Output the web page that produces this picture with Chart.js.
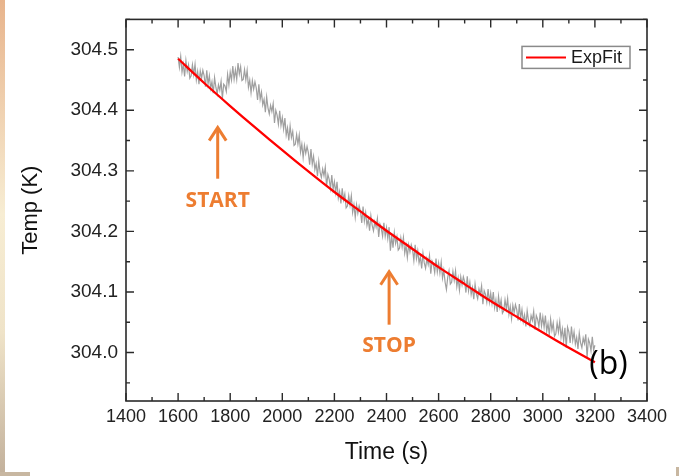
<!DOCTYPE html>
<html><head><meta charset="utf-8">
<script src="https://cdn.jsdelivr.net/npm/chart.js@4/dist/chart.umd.min.js"></script>
<style>html,body{margin:0;padding:0;background:#fff;}canvas{display:block;}</style>
</head><body>
<canvas id="c" width="679" height="476"></canvas>
<script>
// ---- data ----
const xTickValues = [1400,1600,1800,2000,2200,2400,2600,2800,3000,3200,3400];
const yTickValues = [304.0,304.1,304.2,304.3,304.4,304.5];
const xMinorStep = 100;
const yMinorStep = 0.05;

const fitTimes = [1600,1700,1800,1900,2000,2100,2200,2300,2400,2500,2600,2700,2800,2900,3000,3100,3200];
const fitTemps = [304.485,304.445,304.407,304.370,304.334,304.299,304.265,304.233,304.201,304.171,304.141,304.113,304.085,304.059,304.033,304.008,303.984];

const tempStart = 1600, tempStep = 5;
const tempValues = [
304.488,304.471,304.489,304.463,304.476,304.456,304.482,304.464,304.475,304.453,
304.457,304.475,304.459,304.476,304.450,304.464,304.443,304.465,304.453,304.466,
304.457,304.439,304.466,304.443,304.457,304.436,304.447,304.428,304.454,304.438,
304.427,304.442,304.433,304.448,304.419,304.443,304.440,304.431,304.459,304.442,
304.463,304.450,304.473,304.451,304.467,304.451,304.478,304.460,304.472,304.449,
304.451,304.467,304.450,304.466,304.438,304.450,304.429,304.449,304.435,304.447,
304.437,304.417,304.443,304.418,304.430,304.409,304.418,304.397,304.422,304.404,
304.394,304.408,304.398,304.411,304.379,304.400,304.392,304.377,304.399,304.375,
304.388,304.369,304.387,304.359,304.371,304.350,304.374,304.355,304.365,304.342,
304.344,304.360,304.344,304.359,304.331,304.344,304.322,304.342,304.329,304.340,
304.330,304.310,304.336,304.311,304.324,304.302,304.312,304.291,304.316,304.298,
304.289,304.303,304.292,304.306,304.274,304.294,304.286,304.271,304.293,304.269,
304.282,304.264,304.282,304.255,304.266,304.246,304.271,304.252,304.262,304.239,
304.242,304.259,304.243,304.259,304.231,304.244,304.223,304.244,304.230,304.242,
304.233,304.214,304.241,304.217,304.231,304.210,304.220,304.201,304.226,304.210,
304.201,304.216,304.207,304.221,304.191,304.212,304.205,304.192,304.214,304.192,
304.206,304.188,304.207,304.168,304.193,304.173,304.198,304.180,304.191,304.169,
304.172,304.189,304.174,304.190,304.164,304.177,304.157,304.178,304.166,304.178,
304.170,304.152,304.178,304.155,304.168,304.148,304.158,304.139,304.164,304.148,
304.139,304.155,304.145,304.160,304.130,304.151,304.145,304.132,304.155,304.133,
304.148,304.131,304.149,304.123,304.136,304.116,304.104,304.124,304.135,304.113,
304.116,304.134,304.119,304.135,304.109,304.123,304.103,304.125,304.112,304.125,
304.117,304.099,304.126,304.102,304.116,304.096,304.107,304.088,304.113,304.097,
304.089,304.105,304.096,304.110,304.080,304.102,304.096,304.083,304.105,304.083,
304.098,304.081,304.100,304.074,304.087,304.067,304.093,304.075,304.087,304.065,
304.069,304.087,304.072,304.089,304.063,304.076,304.056,304.078,304.066,304.079,
304.071,304.053,304.080,304.057,304.071,304.051,304.062,304.043,304.069,304.053,
304.045,304.061,304.053,304.068,304.038,304.061,304.055,304.042,304.066,304.044,
304.059,304.042,304.061,304.035,304.048,304.029,304.055,304.037,304.049,304.027,
304.031,304.049,304.034,304.051,304.025,304.039,304.019,304.041,304.008,304.042,
304.034,304.016,304.043,304.020,304.034,304.014,304.025,304.006,304.032,304.016,
304.008,304.024,304.015,304.030,303.992,304.022,304.016,304.003,304.026,304.004,
304.012
];

// ---- annotations (data coordinates) ----
const annoStart = {text:'START', t:1752, from:304.287, to:304.373, labelAt:304.250};
const annoStop  = {text:'STOP',  t:2410, from:304.046, to:304.135, labelAt:304.010};
const panelLabel = {text:'(b)', t:3252, at:303.980};
const legendText = 'ExpFit';

const ORANGE = '#ed7d31';
const FONT = '"Liberation Sans", Arial, sans-serif';

const grayPts = tempValues.map((v,i)=>({x: tempStart + i*tempStep, y: v}));
const fitPts = fitTimes.map((t,i)=>({x:t, y:fitTemps[i]}));

function drawArrow(ctx, x, yBottom, yTip){
  ctx.save();
  ctx.strokeStyle = ORANGE; ctx.lineWidth = 3; ctx.lineCap='butt'; ctx.lineJoin='miter';
  ctx.beginPath(); ctx.moveTo(x, yBottom); ctx.lineTo(x, yTip+2); ctx.stroke();
  ctx.beginPath(); ctx.moveTo(x-8.5, yTip+14); ctx.lineTo(x, yTip+1); ctx.lineTo(x+8.5, yTip+14); ctx.stroke();
  ctx.restore();
}

const decor = {
  id:'decor',
  beforeDraw(chart){
    const ctx = chart.ctx; ctx.save();
    ctx.fillStyle='#fff'; ctx.fillRect(0,0,chart.width,chart.height);
    const g = ctx.createLinearGradient(0,0,0,chart.height);
    g.addColorStop(0,'#e8b48c'); g.addColorStop(0.45,'#f7edd3'); g.addColorStop(0.7,'#efe3c8'); g.addColorStop(1,'#c2b09b');
    ctx.fillStyle=g; ctx.fillRect(0,0,5,chart.height);
    ctx.fillStyle='#c8b7a1'; ctx.fillRect(0,472,30,4);
    ctx.fillRect(676,467,3,9);
    ctx.restore();
  },
  afterDatasetsDraw(chart){
    const ctx = chart.ctx, a = chart.chartArea;
    const xs = chart.scales.x, ys = chart.scales.y;
    ctx.save();
    ctx.strokeStyle='#2a2a2a'; ctx.lineWidth=1.6;
    ctx.strokeRect(a.left, a.top, a.right-a.left, a.bottom-a.top);
    ctx.lineWidth=1.4;
    for (let v = xs.min; v <= xs.max + 1e-6; v += xMinorStep){
      const major = xTickValues.includes(Math.round(v));
      const len = major ? 8 : 4;
      const px = xs.getPixelForValue(v);
      ctx.beginPath(); ctx.moveTo(px, a.bottom); ctx.lineTo(px, a.bottom-len);
      ctx.moveTo(px, a.top); ctx.lineTo(px, a.top+len); ctx.stroke();
    }
    for (let k = 0; ; k++){
      const v = 303.95 + k*yMinorStep;
      if (v > ys.max) break;
      const major = yTickValues.some(t=>Math.abs(t-v)<1e-6);
      const len = major ? 8 : 4;
      const py = ys.getPixelForValue(v);
      ctx.beginPath(); ctx.moveTo(a.left, py); ctx.lineTo(a.left+len, py);
      ctx.moveTo(a.right, py); ctx.lineTo(a.right-len, py); ctx.stroke();
    }
    [annoStart, annoStop].forEach(an=>{
      const x = xs.getPixelForValue(an.t);
      drawArrow(ctx, x, ys.getPixelForValue(an.from), ys.getPixelForValue(an.to));
      ctx.fillStyle = ORANGE; ctx.font = 'bold 21px "Open Sans", sans-serif';
      ctx.textAlign='center'; ctx.textBaseline='middle';
      ctx.fillText(an.text, x, ys.getPixelForValue(an.labelAt));
    });
    ctx.fillStyle='#000'; ctx.font='32px "Open Sans", sans-serif';
    ctx.textAlign='center'; ctx.textBaseline='middle';
    ctx.fillText(panelLabel.text, xs.getPixelForValue(panelLabel.t), ys.getPixelForValue(panelLabel.at));
    const lx = a.right-125, ly = a.top+27, lw=108, lh=22;
    ctx.fillStyle='#fff'; ctx.fillRect(lx,ly,lw,lh);
    ctx.strokeStyle='#8a8a8a'; ctx.lineWidth=1.5; ctx.strokeRect(lx,ly,lw,lh);
    ctx.strokeStyle='#ff0000'; ctx.lineWidth=2;
    ctx.beginPath(); ctx.moveTo(lx+4, ly+lh/2); ctx.lineTo(lx+44, ly+lh/2); ctx.stroke();
    ctx.fillStyle='#1a1a1a'; ctx.font='18px '+FONT; ctx.textAlign='left'; ctx.textBaseline='middle';
    ctx.fillText(legendText, lx+49, ly+lh/2+1);
    ctx.restore();
  }
};

new Chart(document.getElementById('c'), {
  type:'scatter',
  data:{ datasets:[
    {label:'ExpFit', data:fitPts, showLine:true, borderColor:'#ff0000', borderWidth:2.3, pointRadius:0, tension:0.3},
    {label:'Temp', data:grayPts, showLine:true, borderColor:'rgba(95,95,95,0.6)', borderWidth:1.2, pointRadius:0}
  ]},
  options:{
    responsive:false, animation:false, devicePixelRatio:1,
    layout:{padding:{left:0, top:14, right:32, bottom:0}},
    plugins:{legend:{display:false}, tooltip:{enabled:false}},
    scales:{
      x:{type:'linear', min:1400, max:3400,
        afterBuildTicks:(s)=>{ s.ticks = xTickValues.map(v=>({value:v})); },
        afterFit:(s)=>{ s.height = 75; },
        grid:{display:false, drawTicks:false}, border:{display:false},
        ticks:{padding:5, color:'#222', font:{family:FONT, size:18}, maxRotation:0, autoSkip:false, callback:(v)=>String(v)},
        title:{display:true, text:'Time (s)', color:'#111', font:{family:FONT, size:23}, padding:{top:0,bottom:10}}
      },
      y:{type:'linear', min:303.92, max:304.55,
        afterBuildTicks:(s)=>{ s.ticks = yTickValues.map(v=>({value:v})); },
        afterFit:(s)=>{ s.width = 126; },
        grid:{display:false, drawTicks:false}, border:{display:false},
        ticks:{padding:8, color:'#222', font:{family:FONT, size:19}, callback:(v)=>Number(v).toFixed(1)},
        title:{display:true, text:'Temp (K)', color:'#111', font:{family:FONT, size:22}, padding:{top:18,bottom:0}}
      }
    }
  },
  plugins:[decor]
});
</script>
</body></html>
